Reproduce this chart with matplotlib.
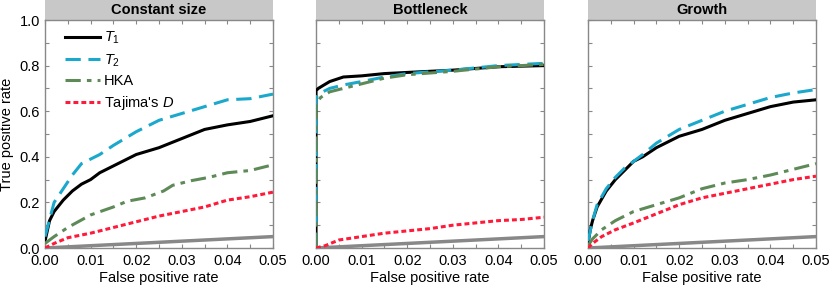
import numpy as np
import matplotlib
matplotlib.use("Agg")
import matplotlib.pyplot as plt
from matplotlib.patches import Rectangle

plt.rcParams['font.family'] = ['Liberation Sans', 'DejaVu Sans']
plt.rcParams['mathtext.fontset'] = 'custom'
plt.rcParams['mathtext.it'] = 'Liberation Sans:italic'
plt.rcParams['mathtext.rm'] = 'Liberation Sans'

titles = ['Constant size', 'Bottleneck', 'Growth']
labels = ['$T_1$', '$T_2$', 'HKA', "Tajima's $D$"]

# Constant size
cs_t1_x = [0, 0.001, 0.002, 0.004, 0.006, 0.008, 0.01, 0.012, 0.015, 0.02, 0.025, 0.03, 0.035, 0.04, 0.045, 0.05]
cs_t1_y = [0.03, 0.12, 0.16, 0.21, 0.25, 0.28, 0.30, 0.33, 0.36, 0.41, 0.44, 0.48, 0.52, 0.54, 0.555, 0.58]
cs_t2_x = [0, 0.002, 0.004, 0.006, 0.008, 0.01, 0.012, 0.015, 0.02, 0.025, 0.03, 0.035, 0.04, 0.045, 0.05]
cs_t2_y = [0.05, 0.20, 0.26, 0.32, 0.37, 0.39, 0.41, 0.45, 0.51, 0.56, 0.59, 0.62, 0.65, 0.655, 0.675]
cs_hka_x = [0, 0.002, 0.005, 0.01, 0.015, 0.018, 0.022, 0.026, 0.028, 0.032, 0.036, 0.04, 0.045, 0.05]
cs_hka_y = [0.02, 0.05, 0.09, 0.145, 0.18, 0.205, 0.22, 0.25, 0.275, 0.295, 0.31, 0.33, 0.34, 0.365]
cs_d_x = [0, 0.002, 0.005, 0.01, 0.015, 0.02, 0.025, 0.03, 0.035, 0.04, 0.045, 0.05]
cs_d_y = [0.0, 0.02, 0.045, 0.065, 0.09, 0.115, 0.14, 0.16, 0.18, 0.21, 0.225, 0.245]

# Bottleneck
bn_t1_x = [0, 0, 0.0005, 0.003, 0.006, 0.01, 0.015, 0.02, 0.03, 0.04, 0.05]
bn_t1_y = [0, 0.69, 0.70, 0.73, 0.75, 0.755, 0.765, 0.77, 0.78, 0.795, 0.80]
bn_t2_x = [0, 0, 0.001, 0.003, 0.006, 0.01, 0.015, 0.02, 0.03, 0.04, 0.05]
bn_t2_y = [0, 0.66, 0.68, 0.70, 0.715, 0.73, 0.75, 0.765, 0.78, 0.80, 0.81]
bn_hka_x = [0, 0, 0.001, 0.003, 0.006, 0.01, 0.015, 0.02, 0.03, 0.04, 0.05]
bn_hka_y = [0, 0.63, 0.66, 0.685, 0.70, 0.72, 0.745, 0.76, 0.775, 0.795, 0.805]
bn_d_x = [0, 0.002, 0.005, 0.01, 0.015, 0.02, 0.025, 0.03, 0.035, 0.04, 0.045, 0.05]
bn_d_y = [0, 0.01, 0.035, 0.05, 0.065, 0.075, 0.085, 0.10, 0.11, 0.12, 0.125, 0.135]

# Growth
gr_t1_x = [0, 0.0005, 0.001, 0.002, 0.004, 0.006, 0.008, 0.01, 0.012, 0.015, 0.02, 0.025, 0.03, 0.035, 0.04, 0.045, 0.05]
gr_t1_y = [0.02, 0.08, 0.12, 0.18, 0.25, 0.30, 0.34, 0.38, 0.40, 0.44, 0.49, 0.52, 0.56, 0.59, 0.62, 0.64, 0.65]
gr_t2_x = [0, 0.001, 0.002, 0.004, 0.006, 0.008, 0.01, 0.012, 0.015, 0.02, 0.025, 0.03, 0.035, 0.04, 0.045, 0.05]
gr_t2_y = [0.03, 0.12, 0.19, 0.26, 0.31, 0.35, 0.38, 0.41, 0.46, 0.52, 0.56, 0.60, 0.63, 0.66, 0.68, 0.695]
gr_hka_x = [0, 0.001, 0.003, 0.006, 0.01, 0.015, 0.02, 0.025, 0.03, 0.035, 0.04, 0.045, 0.05]
gr_hka_y = [0.01, 0.04, 0.08, 0.12, 0.16, 0.19, 0.22, 0.26, 0.285, 0.30, 0.32, 0.345, 0.37]
gr_d_x = [0, 0.001, 0.003, 0.006, 0.01, 0.015, 0.02, 0.025, 0.03, 0.035, 0.04, 0.045, 0.05]
gr_d_y = [0.0, 0.02, 0.05, 0.08, 0.11, 0.15, 0.19, 0.22, 0.24, 0.26, 0.28, 0.30, 0.315]

panels = [
    [(cs_t1_x, cs_t1_y), (cs_t2_x, cs_t2_y), (cs_hka_x, cs_hka_y), (cs_d_x, cs_d_y)],
    [(bn_t1_x, bn_t1_y), (bn_t2_x, bn_t2_y), (bn_hka_x, bn_hka_y), (bn_d_x, bn_d_y)],
    [(gr_t1_x, gr_t1_y), (gr_t2_x, gr_t2_y), (gr_hka_x, gr_hka_y), (gr_d_x, gr_d_y)],
]

diag_x = [0, 0.05]
diag_y = [0, 0.05]

styles = [
    dict(color='black', lw=2.2, ls='-'),
    dict(color='#1aa8cc', lw=2.2, dashes=(5, 2.5)),
    dict(color='#5e8a58', lw=2.2, dashes=(5, 2, 1.5, 2)),
    dict(color='#ff1a3a', lw=2.2, dashes=(1.6, 1.0)),
]

fig = plt.figure(figsize=(8.3, 2.88), dpi=100)
lefts = [45, 316, 588]
for i, title in enumerate(titles):
    ax = fig.add_axes([lefts[i] / 830, 40 / 288, 228 / 830, 228 / 288])
    ax.plot(diag_x, diag_y, color='#888888', lw=2.5, zorder=1)
    for (xs, ys), st, lab in zip(panels[i], styles, labels):
        ax.plot(xs, ys, label=lab, zorder=3, **st)
    ax.set_xlim(0, 0.05)
    ax.set_ylim(0, 1.0)
    ax.set_xticks([0, 0.01, 0.02, 0.03, 0.04, 0.05])
    ax.set_xticks(np.arange(0, 0.0501, 0.005), minor=True)
    ax.set_yticks([0, 0.2, 0.4, 0.6, 0.8, 1.0])
    ax.set_yticks(np.arange(0, 1.01, 0.1), minor=True)
    ax.xaxis.set_major_formatter(plt.FormatStrFormatter('%.2f'))
    ax.yaxis.set_major_formatter(plt.FormatStrFormatter('%.1f'))
    ax.tick_params(which='both', direction='in', top=True, right=True,
                   length=3, width=0.8, color='#888888', labelsize=10.5)
    ax.tick_params(axis='x', pad=4.5)
    if i > 0:
        ax.tick_params(labelleft=False)
    for s in ax.spines.values():
        s.set_color('#888888')
        s.set_linewidth(1.0)
    ax.set_xlabel('False positive rate', fontsize=10.5, labelpad=2)
    ax.add_patch(Rectangle((0, 1.0), 1, 20 / 228, transform=ax.transAxes,
                           facecolor='#c8c8c8', edgecolor='none', clip_on=False))
    ax.text(0.5, 1.0 + 10 / 228, title, transform=ax.transAxes, ha='center',
            va='center', fontsize=10.5, fontweight='bold')
    if i == 0:
        ax.set_ylabel('True positive rate', fontsize=10.5, labelpad=4)
        ax.legend(loc='upper left', frameon=False, fontsize=10.5, handlelength=2.4,
                  handletextpad=0.25, labelspacing=0.4, borderaxespad=0.2,
                  bbox_to_anchor=(0.05, 0.995))

fig.savefig('out.png', dpi=100)
